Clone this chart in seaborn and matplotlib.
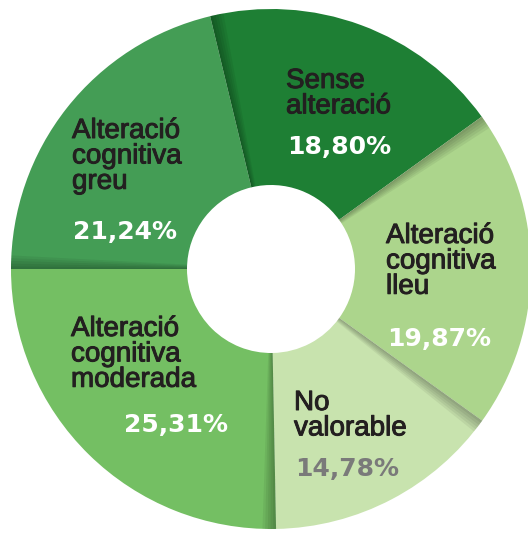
import matplotlib
matplotlib.use('Agg')
import matplotlib.pyplot as plt
import matplotlib.patheffects as pe
from matplotlib.patches import Wedge
import numpy as np
import seaborn as sns

# Data (clockwise from the top)
categories = ['Sense\nalteració', 'Alteració\ncognitiva\nlleu', 'No\nvalorable',
              'Alteració\ncognitiva\nmoderada', 'Alteració\ncognitiva\ngreu']
percentages = [18.80, 19.87, 14.78, 25.31, 21.24]
pct_labels = ['18,80%', '19,87%', '14,78%', '25,31%', '21,24%']

colors = ['#1e7f34', '#acd58c', '#c8e3ae', '#74bf63', '#449d55']
pct_colors = ['white', 'white', '#7a7a7a', 'white', 'white']

# label anchors (pixel coords of the 528x536 canvas, y from top)
name_pos = [(286, 68), (386, 223), (294, 390), (71, 316), (72, 118)]
pct_pos = [(287, 135), (387, 327), (295, 457), (124, 413), (73, 220)]

sns.set_theme(style='white')
plt.rcParams['font.family'] = ['Liberation Sans', 'DejaVu Sans']

W, H = 528, 536
fig = plt.figure(figsize=(W / 100, H / 100), dpi=100)
ax = fig.add_axes([0, 0, 1, 1])

cx, cy, R, r_hole = 271, 269, 260, 84
start = 180 - 3.6 * percentages[-1]  # greu/moderada boundary sits at 9 o'clock
# y axis is flipped below, so a negative start angle and counterclock=True
# make the wedges run clockwise on screen
wedges, _ = ax.pie(percentages, colors=colors, center=(cx, cy), radius=R,
                   startangle=-start, counterclock=True,
                   wedgeprops=dict(width=R - r_hole, linewidth=0))

# soft "fold" shadows just after each slice boundary
bounds = -start + 3.6 * np.concatenate([[0], np.cumsum(percentages)[:-1]])
for b in bounds:
    for k in range(1, 6):
        ax.add_patch(Wedge((cx, cy), R, b, b + 0.6 * k, width=R - r_hole,
                           facecolor='black', alpha=0.06, linewidth=0))

ax.set_xlim(0, W)
ax.set_ylim(H, 0)
ax.set_aspect('equal')
ax.axis('off')

name_fx = [pe.withStroke(linewidth=0.7, foreground='#231f20')]
for name, (x, y) in zip(categories, name_pos):
    ax.text(x, y, name, ha='left', va='top', fontsize=20, color='#231f20',
            linespacing=0.97, path_effects=name_fx)
for lab, col, (x, y) in zip(pct_labels, pct_colors, pct_pos):
    ax.text(x, y, lab, ha='left', va='top', fontsize=18, fontweight='bold',
            color=col, family='DejaVu Sans')

fig.savefig('out.png', dpi=100)
